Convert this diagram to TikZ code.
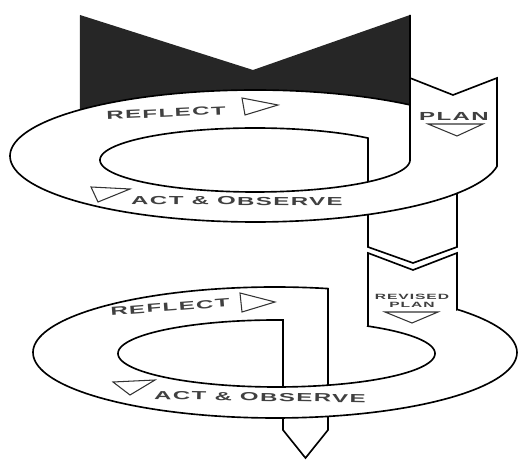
\documentclass[tikz,border=0pt]{standalone}
\usepackage{fontspec}
\usepackage{graphicx}
\newfontfamily\bandfont[LetterSpace=6]{Liberation Sans}
\newcommand{\widetext}[1]{\scalebox{2.05}[1]{#1}}

\begin{document}
\begin{tikzpicture}[
    x=0.03cm, y=-0.03cm,
    line/.style={line width=1.4pt,line join=miter},
    mark tri/.style={draw=black!80,line width=0.9pt,line join=miter},
    bandtext/.style={text=black!75,inner sep=0pt,font=\bandfont\bfseries\fontsize{10}{10}\selectfont},
    smalltext/.style={text=black!75,inner sep=0pt,align=center,font=\bandfont\bfseries\fontsize{6.5}{7}\selectfont}
]
\useasboundingbox (0,0) rectangle (518,460);

% upper cycle
\fill[black!85] (80,15) -- (253,70) -- (410,15) -- (410,104.9)
  -- plot[domain=309.2:224.4,samples=60] ({255+245*cos(\x)},{156+66*sin(\x)}) -- cycle;
\draw[line] (410,78) -- (453,95) -- (497,78) -- (497,166)
  -- plot[domain=9:309.2,samples=150] ({255+245*cos(\x)},{156+66*sin(\x)});
\draw[line] (410,15) -- (410,160)
  -- plot[domain=0:316.8,samples=150] ({255+155*cos(\x)},{160+32*sin(\x)}) -- (368,181.9);
\draw[line] (368,214.5) -- (368,247) -- (413,263) -- (457,247) -- (457,193.4);

% lower cycle
\draw[line] (368,326.1) -- (368,253) -- (413,270) -- (457,253) -- (457,309.4)
  -- plot[domain=318.8:642.65,samples=150] ({275+242*cos(\x)},{352.5+65.5*sin(\x)}) -- (328,385.2);
\draw[line] (368,326.1)
  -- plot[domain=305.25:632.35,samples=150] ({276.5+158.5*cos(\x)},{353.5+33.5*sin(\x)}) -- (283,387);
\draw[line] (283,418) -- (283,430) -- (305.5,458) -- (328,430) -- (328,416.4);

% direction marks
\draw[mark tri] (242,98) -- (278,105) -- (245,115) -- cycle;
\draw[mark tri] (91,187) -- (130,189) -- (98,202) -- cycle;
\draw[mark tri] (428,124) -- (483,124) -- (457,136) -- cycle;
\draw[mark tri] (240,293) -- (275,302) -- (242,312) -- cycle;
\draw[mark tri] (385,312) -- (438,312) -- (412,323) -- cycle;
\draw[mark tri] (113,382) -- (155,380) -- (130,395) -- cycle;

% labels
\node[bandtext,rotate=2.5] (reflect1) at (166,113) {\widetext{REFLECT}};
\node[bandtext,rotate=-0.5] (act1) at (237,201) {\widetext{ACT \& OBSERVE}};
\node[bandtext] (plan1) at (454,116) {\widetext{PLAN}};
\node[smalltext] (plan2) at (412,301) {\widetext{REVISED}\\\widetext{PLAN}};
\node[bandtext,rotate=4.3] (reflect2) at (170,307) {\widetext{REFLECT}};
\node[bandtext,rotate=-1] (act2) at (260,397) {\widetext{ACT \& OBSERVE}};

\end{tikzpicture}
\end{document}
